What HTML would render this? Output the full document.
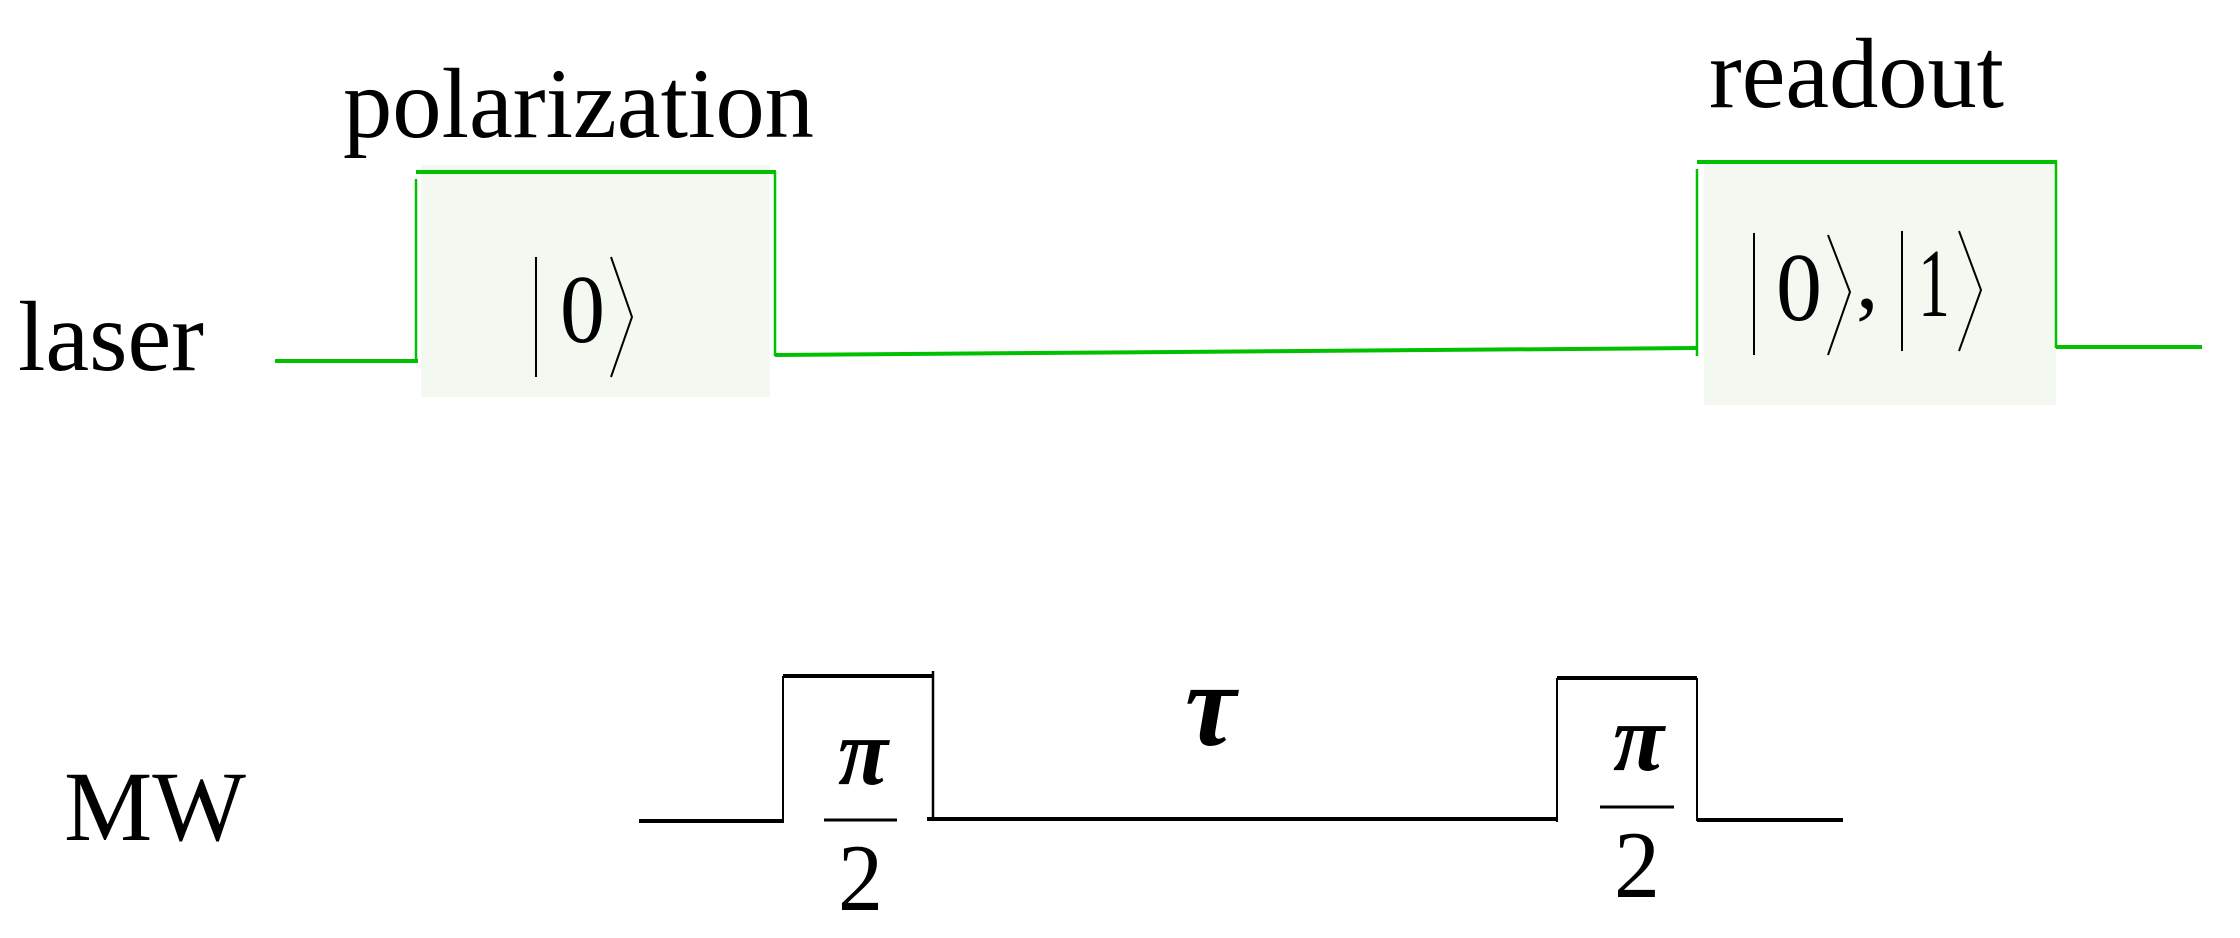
<!DOCTYPE html>
<html><head><meta charset="utf-8"><style>html,body{margin:0;padding:0;background:#fff}svg{display:block}</style></head>
<body>
<svg width="2240" height="938" viewBox="0 0 2240 938" xmlns="http://www.w3.org/2000/svg" font-family="'Liberation Serif', serif">
<rect x="0" y="0" width="2240" height="938" fill="#fff"/>
<!-- boxes -->
<rect x="421" y="165" width="349" height="232" fill="#f3f8f1"/>
<rect x="1704" y="160" width="352" height="245" fill="#f3f8f1"/>
<!-- laser waveform -->
<g stroke="#00c000" fill="none" stroke-width="4">
<line x1="275" y1="361" x2="418" y2="361"/>
<line x1="416" y1="179" x2="416" y2="362" stroke-width="2.5"/>
<line x1="416" y1="172" x2="776" y2="172"/>
<line x1="775" y1="172" x2="775" y2="356" stroke-width="2.5"/>
<line x1="775" y1="355" x2="1697" y2="348"/>
<line x1="1697" y1="169" x2="1697" y2="356" stroke-width="2.5"/>
<line x1="1697" y1="162" x2="2057" y2="162"/>
<line x1="2056" y1="162" x2="2056" y2="348" stroke-width="2.5"/>
<line x1="2056" y1="347" x2="2202" y2="347"/>
</g>
<!-- MW waveform -->
<g stroke="#000" fill="none">
<line x1="639" y1="821" x2="784" y2="821" stroke-width="4"/>
<line x1="783" y1="676" x2="783" y2="822" stroke-width="2"/>
<line x1="783" y1="676" x2="933" y2="676" stroke-width="4"/>
<line x1="933" y1="671" x2="933" y2="820" stroke-width="2.5"/>
<line x1="927" y1="819" x2="1557" y2="819" stroke-width="4"/>
<line x1="1557" y1="678" x2="1557" y2="822" stroke-width="2"/>
<line x1="1557" y1="678" x2="1697" y2="678" stroke-width="4"/>
<line x1="1697" y1="678" x2="1697" y2="821" stroke-width="2"/>
<line x1="1697" y1="820" x2="1843" y2="820" stroke-width="4"/>
<!-- fraction bars -->
<line x1="824" y1="820" x2="897" y2="820" stroke-width="3"/>
<line x1="1600" y1="807" x2="1674" y2="807" stroke-width="3"/>
</g>
<!-- labels -->
<text x="343" y="137" font-size="100" textLength="471" lengthAdjust="spacingAndGlyphs">polarization</text>
<text x="1709" y="107" font-size="100" textLength="295" lengthAdjust="spacingAndGlyphs">readout</text>
<text x="18" y="370" font-size="100" textLength="186" lengthAdjust="spacingAndGlyphs">laser</text>
<text x="64" y="840" font-size="100" textLength="182" lengthAdjust="spacingAndGlyphs">MW</text>
<!-- ket |0> -->
<g stroke="#000" fill="none" stroke-width="2">
<line x1="536" y1="257" x2="536" y2="377"/>
<polyline points="611,257 632,317 611,377"/>
<line x1="1754" y1="233" x2="1754" y2="355"/>
<polyline points="1828,235 1850,292 1828,355"/>
<line x1="1902" y1="231" x2="1902" y2="351"/>
<polyline points="1959,231 1981,290 1959,351"/>
</g>
<text x="560" y="342" font-size="98" textLength="45" lengthAdjust="spacingAndGlyphs">0</text>
<text x="1776" y="320" font-size="98" textLength="46" lengthAdjust="spacingAndGlyphs">0</text>
<text x="1856" y="308" font-size="90">,</text>
<text x="1918" y="316" font-size="98" textLength="32" lengthAdjust="spacingAndGlyphs">1</text>
<!-- MW labels -->
<text x="838" y="784" font-size="95" font-style="italic" font-weight="bold" textLength="50" lengthAdjust="spacingAndGlyphs">π</text>
<text x="838" y="910" font-size="95" textLength="45" lengthAdjust="spacingAndGlyphs">2</text>
<text x="1613" y="770" font-size="95" font-style="italic" font-weight="bold" textLength="51" lengthAdjust="spacingAndGlyphs">π</text>
<text x="1614" y="897" font-size="95" textLength="46" lengthAdjust="spacingAndGlyphs">2</text>
<text x="1185" y="745" font-size="120" font-style="italic" font-weight="bold" textLength="51" lengthAdjust="spacingAndGlyphs">τ</text>
</svg>
</body></html>
